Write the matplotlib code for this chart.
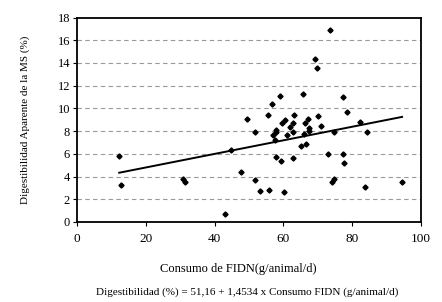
import numpy as np
import matplotlib.pyplot as plt

# Consumo de FIDN (g/animal/d) vs digestibilidad aparente (%)
consumo = [12.3, 12.9, 30.9, 31.4, 43.1, 44.9, 47.6, 49.4, 51.8, 51.8,
           53.3, 55.4, 55.7, 73.5, 69.1, 69.9, 65.8, 59.0, 56.8, 77.2,
           78.4, 59.5, 60.5, 63.1, 62.9, 61.9, 62.7, 61.2, 58.0, 57.8,
           57.0, 57.5, 66.2, 67.1, 67.5, 66.0, 67.5, 70.2, 71.0, 65.2,
           66.6, 57.8, 59.2, 62.8, 72.9, 74.6, 77.2, 77.7, 82.2, 84.3,
           74.0, 74.7, 83.7, 94.5, 60.3]
digest = [5.81, 3.29, 3.76, 3.55, 0.67, 6.37, 4.43, 9.07, 7.92, 3.67,
          2.73, 9.45, 2.79, 16.93, 14.32, 13.53, 11.3, 11.09, 10.42, 11.0,
          9.65, 8.74, 8.95, 9.45, 8.69, 8.36, 7.92, 7.63, 8.13, 7.92,
          7.69, 7.25, 8.71, 9.04, 8.3, 7.78, 7.98, 9.36, 8.45, 6.69,
          6.9, 5.69, 5.4, 5.63, 5.99, 7.9, 5.96, 5.19, 8.8, 7.9,
          3.55, 3.76, 3.11, 3.55, 2.67]

# tendencia lineal
intercepto = 3.6
pendiente = 0.0598

xticks = [0, 20, 40, 60, 80, 100]
yticks = [0, 2, 4, 6, 8, 10, 12, 14, 16, 18]

plt.rcParams['font.family'] = ['Liberation Serif', 'DejaVu Serif']

fig = plt.figure(figsize=(4.42, 3.02), dpi=100)
ax = fig.add_axes([0.174, 0.265, 0.7785, 0.677])

# lineas de division horizontales
for y in yticks[1:-1]:
    ax.axhline(y, color='#999999', lw=0.8, ls=(0, (4, 3)), zorder=0)

ax.plot(consumo, digest, ls='none', marker='D', ms=2.6, color='black')

xl = np.array([min(consumo), max(consumo)])
ax.plot(xl, intercepto + pendiente * xl, color='black', lw=1.4)

ax.set_xlim(0, 100)
ax.set_ylim(0, 18)
ax.set_xticks(xticks)
ax.set_yticks(yticks)
ax.tick_params(axis='x', labelsize=9.5, length=3, width=0.8, pad=5)
ax.tick_params(axis='y', labelsize=9, length=3, width=0.8, pad=2)
for s in ax.spines.values():
    s.set_linewidth(1.3)

ax.set_ylabel('Digestibilidad Aparente de la MS (%)', fontsize=8, labelpad=20)
fig.text(238 / 442, 1 - 269 / 302, 'Consumo de FIDN(g/animal/d)',
         fontsize=9, ha='center', va='center')
fig.text(247 / 442, 1 - 292 / 302,
         'Digestibilidad (%) = 51,16 + 1,4534 x Consumo FIDN (g/animal/d)',
         fontsize=8, ha='center', va='center')

fig.savefig('out.png', dpi=100)
